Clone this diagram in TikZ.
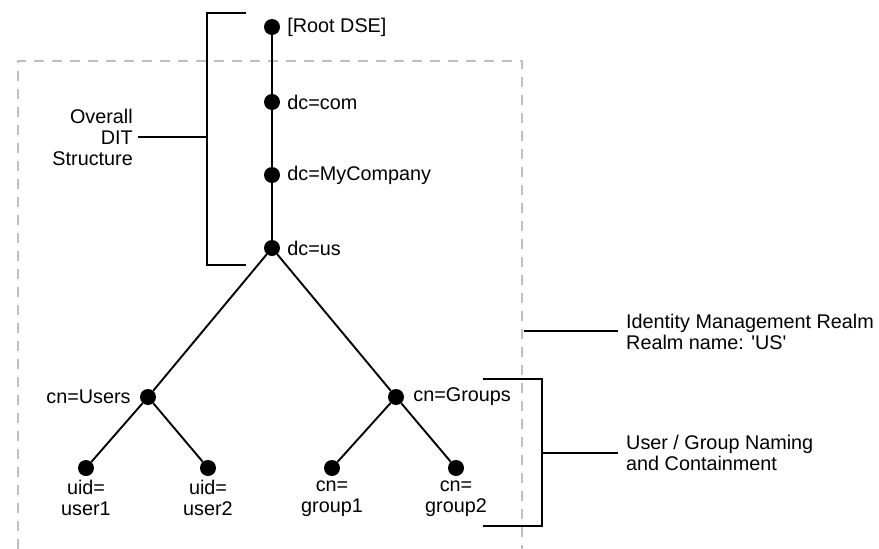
\documentclass[tikz,border=0pt]{standalone}
\usepackage{fontspec}
\setmainfont{Liberation Sans}
\usetikzlibrary{positioning}
\tikzset{
    dot/.style={circle, fill=black, inner sep=0pt, minimum size=16pt},
    lbl/.style={inner sep=1pt, align=center},
    branch/.style={line width=1.9pt},
    brace/.style={line width=1.2pt},
    realm/.style={draw=black!25, line width=2pt, dash pattern=on 10pt off 8pt}
}
\begin{document}
\begin{tikzpicture}[x=1pt, y=-1pt, font=\fontsize{19.8}{21}\selectfont]
        \useasboundingbox (0,0) rectangle (879,549);
        % realm box
        \draw[realm] (18,549) -- (18,61) -- (522,61) -- (522,549);
        % tree
        \node[dot] (root) at (272,27) {};
        \node[dot] (com) at (272,102) {};
        \node[dot] (company) at (272,175) {};
        \node[dot] (us) at (272,248) {};
        \node[dot] (users) at (148,397) {};
        \node[dot] (groups) at (396,397) {};
        \node[dot] (user1) at (86,468) {};
        \node[dot] (user2) at (208,468) {};
        \node[dot] (group1) at (332,468) {};
        \node[dot] (group2) at (456,468) {};
        \draw[branch] (root) -- (com) -- (company) -- (us);
        \draw[branch] (users) -- (us) -- (groups);
        \draw[branch] (user1) -- (users) -- (user2);
        \draw[branch] (group1) -- (groups) -- (group2);
        \node[lbl, right=6pt of root] (rootlbl) {[Root DSE]};
        \node[lbl, right=6pt of com] (comlbl) {dc=com};
        \node[lbl, right=6pt of company] (companylbl) {dc=MyCompany};
        \node[lbl, right=6pt of us] (uslbl) {dc=us};
        \node[lbl, left=8pt of users] (userslbl) {cn=Users};
        \node[lbl, right=8pt of groups] (groupslbl) {cn=Groups};
        \node[lbl, below=3pt of user1] (user1lbl) {uid=\\user1};
        \node[lbl, below=3pt of user2] (user2lbl) {uid=\\user2};
        \node[lbl, below=3pt of group1] (group1lbl) {cn=\\group1};
        \node[lbl, below=3pt of group2] (group2lbl) {cn=\\group2};
        % brackets and callouts
        \draw[brace] (246,13) -- (207,13) -- (207,265) -- (246,265);
        \coordinate (ditend) at (207,137);
        \node[lbl, align=right, anchor=east] (dit) at (134,137) {Overall\\DIT\\Structure};
        \draw[brace] (ditend) -- (dit.east -| 138,0);
        \coordinate (realmend) at (524,331);
        \node[lbl, align=left, anchor=west] (realmlbl) at (625,332) {Identity Management Realm\\Realm name: \textquotesingle US\textquotesingle};
        \draw[brace] (realmend) -- (618,331);
        \draw[brace] (483,379) -- (542,379) -- (542,526) -- (483,526);
        \coordinate (namingend) at (542,453);
        \node[lbl, align=left, anchor=west] (naminglbl) at (625,453) {User / Group Naming\\and Containment};
        \draw[brace] (namingend) -- (618,453);
    \end{tikzpicture}
\end{document}
